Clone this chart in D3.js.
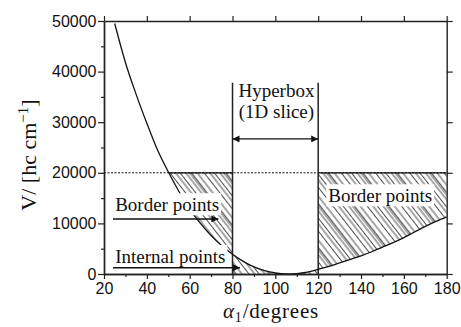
<!DOCTYPE html>
<html>
<head>
<meta charset="utf-8">
<script src="https://cdn.jsdelivr.net/npm/d3@7"></script>
<style>
  html, body { margin: 0; padding: 0; background: #fff; }
  svg { display: block; }
</style>
</head>
<body>
<svg id="chart" width="461" height="327"></svg>
<script>
// ---- data ----
const alpha = [25,30,35,40,45,50,55,60,65,70,75,80,85,90,95,100,105,110,115,120,125,130,135,140,145,150,155,160,165,170,175,180];
const energy = [49500,41800,35500,29800,24500,20200,16300,12800,10000,7600,5600,3900,2500,1400,650,200,20,80,350,900,1500,2200,2900,3600,4400,5300,6200,7200,8300,9400,10400,11300];
const cutoff = 20000;
const boxLow = 80, boxHigh = 120;
const xMajor = [20,40,60,80,100,120,140,160,180];
const xMinor = [30,50,70,90,110,130,150,170];
const yMajor = [0,10000,20000,30000,40000,50000];
const yMinor = [5000,15000,25000,35000,45000];

const W = 461, H = 327;
const margin = {left: 104, right: 14.3, top: 21, bottom: 53};
const svg = d3.select("#chart");
const x = d3.scaleLinear([20,180],[margin.left, W - margin.right]);
const y = d3.scaleLinear([0,50000],[H - margin.bottom, margin.top]);

const pts = alpha.map((a,i)=>({a, v: energy[i]}));

// hatch pattern
const defs = svg.append("defs");
const pat = defs.append("pattern").attr("id","hatch")
  .attr("patternUnits","userSpaceOnUse").attr("width",27).attr("height",27)
  .attr("patternTransform","rotate(-38)");
[0.5,5,8.5,13,16,17.6,22].forEach(o=>{
  pat.append("line").attr("x1",o).attr("x2",o).attr("y1",0).attr("y2",27)
    .attr("stroke","#111").attr("stroke-width",0.75);
});

// left border region
const leftPts = pts.filter(d=>d.a>=45 && d.a<=boxLow);
svg.append("path").datum(leftPts)
  .attr("d", d3.area().x(d=>x(d.a)).y0(y(cutoff)).y1(d=>y(Math.min(d.v,cutoff))))
  .attr("fill","url(#hatch)");
// right border region
const rightPts = pts.filter(d=>d.a>=boxHigh);
svg.append("path").datum(rightPts)
  .attr("d", d3.area().x(d=>x(d.a)).y0(y(cutoff)).y1(d=>y(Math.min(d.v,cutoff))))
  .attr("fill","url(#hatch)");
// internal region
const midPts = pts.filter(d=>d.a>=boxLow && d.a<=boxHigh);
svg.append("path").datum(midPts)
  .attr("d", d3.area().x(d=>x(d.a)).y0(y(0)).y1(d=>y(d.v)))
  .attr("fill","url(#hatch)");

// dotted cutoff line
svg.append("line").attr("x1",x(20)).attr("x2",x(180)).attr("y1",y(cutoff)).attr("y2",y(cutoff))
  .attr("stroke","#111").attr("stroke-width",1).attr("stroke-dasharray","2,1.5");
// solid top of hatched regions
svg.append("line").attr("x1",x(50.3)).attr("x2",x(boxLow)).attr("y1",y(cutoff)).attr("y2",y(cutoff))
  .attr("stroke","#111").attr("stroke-width",1.2);
svg.append("line").attr("x1",x(boxHigh)).attr("x2",x(180)).attr("y1",y(cutoff)).attr("y2",y(cutoff))
  .attr("stroke","#111").attr("stroke-width",1.2);

// hyperbox vertical lines
[boxLow, boxHigh].forEach(a=>{
  svg.append("line").attr("x1",x(a)).attr("x2",x(a)).attr("y1",y(37800)).attr("y2",y(0))
    .attr("stroke","#222").attr("stroke-width",1.5);
});

// curve
svg.append("path").datum(pts)
  .attr("d", d3.line().x(d=>x(d.a)).y(d=>y(d.v)).curve(d3.curveMonotoneX))
  .attr("fill","none").attr("stroke","#111").attr("stroke-width",1.3);

// axes
const axStyle = g => {
  g.selectAll("path.domain").attr("stroke","#222").attr("stroke-width",1.4);
  g.selectAll(".tick line").attr("stroke","#222").attr("stroke-width",1.2);
  g.selectAll("text").attr("font-family","'Liberation Sans', Arial, sans-serif")
    .attr("font-size",16).attr("fill","#111");
};
svg.append("g").attr("transform",`translate(0,${y(0)})`)
  .call(d3.axisBottom(x).tickValues(xMajor).tickFormat(d3.format("d")).tickSize(5).tickPadding(4).tickSizeOuter(0))
  .call(axStyle);
svg.append("g").attr("transform",`translate(0,${y(0)})`)
  .call(d3.axisBottom(x).tickValues(xMinor).tickFormat("").tickSize(3).tickSizeOuter(0))
  .call(axStyle);
svg.append("g").attr("transform",`translate(${x(20)},0)`)
  .call(d3.axisLeft(y).tickValues(yMajor).tickFormat(d3.format("d")).tickSize(6).tickPadding(1.5).tickSizeOuter(0))
  .call(axStyle);
svg.append("g").attr("transform",`translate(${x(20)},0)`)
  .call(d3.axisLeft(y).tickValues(yMinor).tickFormat("").tickSize(3).tickSizeOuter(0))
  .call(axStyle);
svg.append("g").attr("transform",`translate(0,${y(50000)})`)
  .call(d3.axisTop(x).tickValues(xMajor).tickFormat("").tickSize(5).tickSizeOuter(0))
  .call(axStyle);
svg.append("g").attr("transform",`translate(${x(180)},0)`)
  .call(d3.axisRight(y).tickValues(yMajor).tickFormat("").tickSize(6).tickSizeOuter(0))
  .call(axStyle);

// arrowheads
defs.append("marker").attr("id","ah").attr("viewBox","0 0 10 10").attr("refX",10).attr("refY",5)
  .attr("markerWidth",9).attr("markerHeight",7).attr("markerUnits","userSpaceOnUse")
  .attr("orient","auto-start-reverse")
  .append("path").attr("d","M0,0 L10,5 L0,10 z").attr("fill","#111");

const serif = "'Liberation Serif', 'Times New Roman', serif";
function label(txt, a, v, anchor, bg) {
  const t = svg.append("text").attr("x",x(a)).attr("y",y(v))
    .attr("font-family",serif).attr("font-size",19).attr("fill","#111")
    .attr("text-anchor",anchor).text(txt);
  if (bg) {
    const b = t.node().getBBox();
    svg.insert("rect", () => t.node()).attr("x",b.x-2).attr("y",b.y-1)
      .attr("width",b.width+4).attr("height",b.height+1).attr("fill","#fff");
  }
  return t;
}
function arrow(a0, a1, v, both) {
  const l = svg.append("line").attr("x1",x(a0)).attr("x2",x(a1)).attr("y1",y(v)).attr("y2",y(v))
    .attr("stroke","#111").attr("stroke-width",1.4).attr("marker-end","url(#ah)");
  if (both) l.attr("marker-start","url(#ah)");
}

// hyperbox annotation
label("Hyperbox", 100.5, 34900, "middle", false);
label("(1D slice)", 100.5, 30800, "middle", false);
arrow(boxLow, boxHigh, 26700, true);

// border / internal labels
label("Border points", 25.2, 12400, "start", true);
arrow(24.2, 73.4, 10870, false);
label("Internal points", 25.2, 2170, "start", true);
arrow(24.2, 83.5, 1245, false);
label("Border points", 124.7, 14170, "start", true);

// axis titles
const yt = svg.append("text").attr("transform","translate(36,155) rotate(-90)")
  .attr("font-family",serif).attr("font-size",22).attr("fill","#111").attr("text-anchor","middle");
yt.append("tspan").text("V/ [hc cm");
yt.append("tspan").attr("font-size",15).attr("dy",-8).text("−1");
yt.append("tspan").attr("dy",8).text("]");

const xt = svg.append("text").attr("x",271).attr("y",318)
  .attr("font-family",serif).attr("font-size",21).attr("letter-spacing",0.8)
  .attr("fill","#111").attr("text-anchor","middle");
xt.append("tspan").attr("font-style","italic").text("α");
xt.append("tspan").attr("font-size",14).attr("dy",4).text("1");
xt.append("tspan").attr("dy",-4).text("/degrees");
</script>
</body>
</html>
